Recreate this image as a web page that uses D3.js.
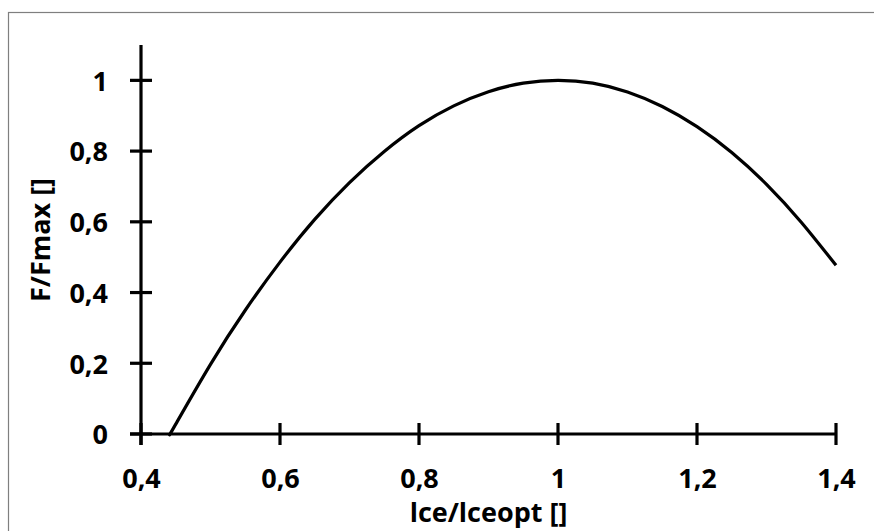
<!DOCTYPE html>
<html><head><meta charset="utf-8">
<script src="https://cdn.jsdelivr.net/npm/d3@7"></script>
<style>body{margin:0;background:#fff}svg{display:block}text{font-family:"Open Sans",sans-serif;font-weight:bold;fill:#000}</style>
</head><body>
<svg id="c" width="874" height="531"></svg>
<script>
// data
const lengths = [0.4417,0.45,0.50,0.55,0.60,0.65,0.70,0.75,0.80,0.85,0.90,0.95,1.00,1.05,1.10,1.15,1.20,1.25,1.30,1.35,1.40];
const forces  = [0,0.028,0.197,0.350,0.486,0.607,0.711,0.799,0.872,0.928,0.968,0.992,1.000,0.992,0.967,0.926,0.869,0.796,0.706,0.599,0.477];
const xTicks = [0.4,0.6,0.8,1.0,1.2,1.4];
const yTicks = [0,0.2,0.4,0.6,0.8,1.0];
const xTitle = "lce/lceopt []";
const yTitle = "F/Fmax []";

const svg = d3.select("#c");
const fmt = d => String(+d.toFixed(1)).replace(".", ",");
const FS = "27px";

svg.append("rect").attr("x",8.5).attr("y",12.5).attr("width",1000).attr("height",1000)
  .attr("fill","#fff").attr("stroke","#7f7f7f").attr("stroke-width",1.2);

const x = d3.scaleLinear().domain([0.4,1.4]).range([141,836]);
const y = d3.scaleLinear().domain([0,1.1]).range([434,45]);

// y axis
const ya = svg.append("g").attr("transform","translate(141,0)")
  .call(d3.axisLeft(y).tickValues(yTicks).tickSize(0).tickPadding(33).tickFormat(fmt));
ya.select(".domain").remove();
ya.selectAll("text").style("font-size",FS).attr("dy","0.36em");
svg.append("line").attr("x1",141).attr("x2",141).attr("y1",y(1.1)).attr("y2",y(0)+11)
  .attr("stroke","#000").attr("stroke-width",3.2);
svg.selectAll(".yt").data(yTicks).join("line").attr("class","yt")
  .attr("x1",130).attr("x2",152).attr("y1",d=>y(d)).attr("y2",d=>y(d))
  .attr("stroke","#000").attr("stroke-width",3.2);

// x axis
const xa = svg.append("g").attr("transform","translate(0,434)")
  .call(d3.axisBottom(x).tickValues(xTicks).tickSize(0).tickPadding(44).tickFormat(fmt));
xa.select(".domain").remove();
xa.selectAll("text").style("font-size",FS).attr("dy","0.36em");
svg.append("line").attr("x1",130).attr("x2",x(1.4)).attr("y1",434).attr("y2",434)
  .attr("stroke","#000").attr("stroke-width",3.2);
svg.selectAll(".xt").data(xTicks).join("line").attr("class","xt")
  .attr("x1",d=>x(d)).attr("x2",d=>x(d)).attr("y1",423).attr("y2",445)
  .attr("stroke","#000").attr("stroke-width",3.2);

// curve
const pts = lengths.map((l,i)=>[l,forces[i]]);
svg.append("path").datum(pts)
  .attr("d", d3.line().x(d=>x(d[0])).y(d=>y(d[1])).curve(d3.curveNatural))
  .attr("fill","none").attr("stroke","#000").attr("stroke-width",3.2);

// titles
svg.append("text").attr("x",(x(0.4)+x(1.4))/2).attr("y",522).attr("text-anchor","middle")
  .style("font-size",FS).text(xTitle);
svg.append("text").attr("transform","translate(50,240) rotate(-90)").attr("text-anchor","middle")
  .style("font-size",FS).text(yTitle);
</script>
</body></html>
